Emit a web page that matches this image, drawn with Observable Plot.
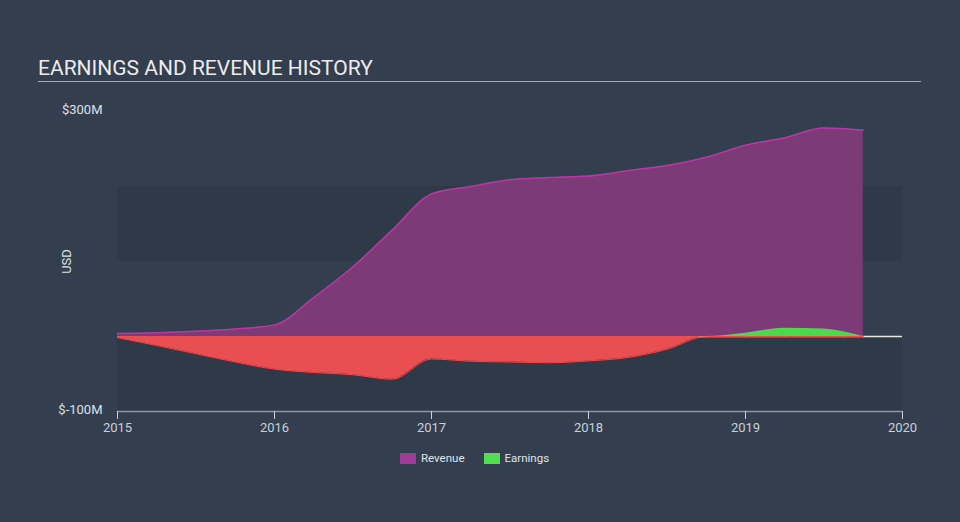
<!DOCTYPE html>
<html><head><meta charset="utf-8">
<script src="https://cdn.jsdelivr.net/npm/d3@7"></script>
<script src="https://cdn.jsdelivr.net/npm/@observablehq/plot@0.6"></script>
<style>
body{margin:0;background:#333f4f;font-family:Roboto,"Noto Sans",sans-serif;}
#wrap{position:relative;width:960px;height:522px;background:#333f4f;overflow:hidden;}
#title{position:absolute;left:38px;top:57px;width:883px;color:#ececec;font-size:21px;line-height:22px;padding-bottom:2px;border-bottom:1.5px solid #a6abb2;}
#chart{position:absolute;left:0;top:90px;}
#legend{position:absolute;left:400px;top:451px;display:flex;align-items:center;font-size:11.5px;color:#e0e3e7;}
.sw{width:16px;height:11px;display:inline-block;margin-right:5px;}
.item{display:flex;align-items:center;margin-right:19px;}
</style>
</head><body>
<div id="wrap">
  <div id="title">EARNINGS AND REVENUE HISTORY</div>
  <div id="chart"></div>
  <div id="legend"></div>
</div>
<script>
// Quarter-end periods (fractional years)
const quarters = [2015, 2015.25, 2015.5, 2015.75, 2016, 2016.25, 2016.5, 2016.75, 2017, 2017.25, 2017.5, 2017.75, 2018, 2018.25, 2018.5, 2018.75, 2019, 2019.25, 2019.5, 2019.75];
// Revenue, $M
const revenue = [4, 5, 7, 10, 15.5, 52, 93, 142, 190, 200, 209, 212, 214, 221, 228, 239, 255, 265, 278, 275];
// Earnings, $M
const earnings = [-1.5, -12, -23, -34, -43.5, -48, -51, -57, -30, -33, -34, -35, -32.5, -28, -17, 0, 4.5, 11, 10, 0];
const yearTicks = [2015, 2016, 2017, 2018, 2019, 2020];
const yTicks = [-100, 300];
const bandLow = [100, -100];
const bandHigh = [200, 0];
const seriesNames = ["Revenue", "Earnings"];
const seriesColors = ["#a03a98", "#4fe04b"];

const rows = quarters.map((q, i) => ({
  q, rev: revenue[i], earn: earnings[i],
  neg: Math.min(earnings[i], 0), pos: Math.max(earnings[i], 0)
}));
const bands = bandLow.map((l, i) => ({lo: l, hi: bandHigh[i]}));
const xDom = [yearTicks[0], yearTicks[yearTicks.length - 1]];

const chart = Plot.plot({
  width: 960, height: 360,
  marginLeft: 117, marginRight: 58, marginTop: 21, marginBottom: 39,
  style: {background: "transparent", color: "#d9dde2", fontFamily: "Roboto, sans-serif", fontSize: "13px"},
  x: {domain: xDom},
  y: {domain: [yTicks[0], yTicks[1]]},
  marks: [
    Plot.rect(bands, {x1: () => xDom[0], x2: () => xDom[1], y1: "lo", y2: "hi", fill: "#2e3a48"}),
    Plot.ruleY([0], {stroke: "#e8e8e8", strokeWidth: 1.3}),
    Plot.areaY(rows, {x: "q", y: "rev", fill: "#7c3a77", curve: "monotone-x"}),
    Plot.lineY(rows, {x: "q", y: "rev", stroke: "#bb37a3", strokeWidth: 1.5, curve: "monotone-x"}),
    Plot.areaY(rows, {x: "q", y: "neg", fill: "#e94e51", curve: "monotone-x"}),
    Plot.lineY(rows, {x: "q", y: "neg", stroke: "#f0484b", strokeWidth: 1, curve: "monotone-x"}),
    Plot.areaY(rows, {x: "q", y: "pos", fill: "#4cd94c", curve: "monotone-x"}),
    Plot.ruleY([yTicks[0]], {stroke: "#8c98a6", strokeWidth: 1.5}),
    Plot.axisX({ticks: yearTicks, tickFormat: d => String(d), tickSize: 8, tickPadding: 3, color: "#c9d0d8", label: null}),
    Plot.axisY({ticks: yTicks, tickSize: 0, tickPadding: 15, tickFormat: d => `$${d}M`, dy: -1.5, color: "#dde1e6",
      label: "USD", labelAnchor: "center", labelOffset: 56, labelArrow: "none"})
  ]
});
document.getElementById("chart").appendChild(chart);

const lg = document.getElementById("legend");
seriesNames.forEach((n, i) => {
  const it = document.createElement("div");
  it.className = "item";
  it.innerHTML = `<span class="sw" style="background:${seriesColors[i]}"></span><span>${n}</span>`;
  lg.appendChild(it);
});
</script>
</body></html>
